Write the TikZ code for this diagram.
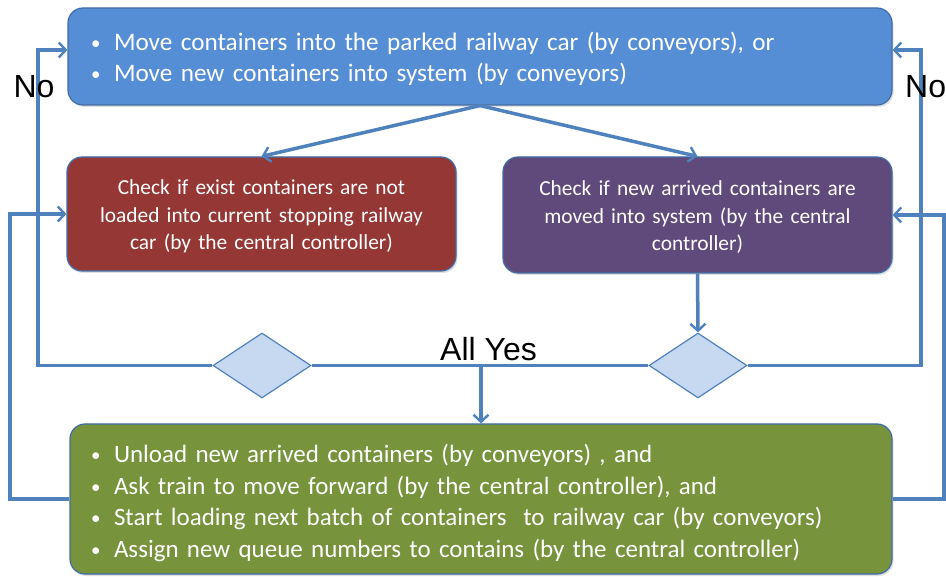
\documentclass[tikz,border=0pt]{standalone}
\usepackage{fontspec}
\setmainfont{Carlito}
\newfontfamily\arialf{Liberation Sans}
\usetikzlibrary{arrows.meta,shapes.geometric,shadows}
\definecolor{topfill}{RGB}{85,142,213}
\definecolor{redfill}{RGB}{149,55,53}
\definecolor{purfill}{RGB}{96,74,123}
\definecolor{grnfill}{RGB}{119,147,60}
\definecolor{diafill}{RGB}{198,217,241}
\definecolor{linec}{RGB}{79,129,189}
\definecolor{edgec}{RGB}{65,108,165}
\tikzset{
  boxst/.style={draw=edgec, line width=1.2pt, rounded corners=15pt,
    drop shadow={shadow xshift=1.5pt, shadow yshift=-2pt, opacity=0.25}, inner sep=0pt},
  txtst/.style={text=white, inner sep=0pt},
  diast/.style={diamond, draw=linec, line width=1.2pt, fill=diafill, minimum width=98pt,
    minimum height=65pt, inner sep=0pt},
  arr/.style={draw=linec, line width=3.5pt, -{Straight Barb[length=7pt,width=15pt,line width=2.4pt]}},
  ln/.style={draw=linec, line width=3.5pt},
  bigtxt/.style={font=\arialf\fontsize{32}{36}\selectfont, text=black, inner sep=0pt}
}
\newcommand{\bul}{\makebox[22pt][l]{\hspace{-1pt}\raisebox{1pt}{\fontsize{19}{19}\selectfont\textbullet}}}
\begin{document}
\begin{tikzpicture}[x=1pt,y=-1pt]
\useasboundingbox (0,0) rectangle (946,577);
\clip (0,0) rectangle (946,577);
% boxes
\node[boxst, fill=topfill, minimum width=824pt, minimum height=97pt] (top) at (480,56.5) {};
\node[boxst, fill=redfill, minimum width=389pt, minimum height=114pt] (red) at (261.5,214) {};
\node[boxst, fill=purfill, minimum width=389pt, minimum height=116pt] (pur) at (697.5,215) {};
\node[boxst, fill=grnfill, minimum width=822pt, minimum height=150pt] (grn) at (481,499) {};
% box texts
\node[txtst, text width=776pt, align=left, font=\fontsize{25.2}{31}\selectfont] (topt)
  at ([yshift=-2pt]top.center)
  {\bul Move containers into the parked railway car (by conveyors), or\\
   \bul Move new containers into system (by conveyors)};
\node[txtst, text width=370pt, align=center, font=\fontsize{21.4}{27.5}\selectfont] (redt)
  at ([yshift=-2.5pt]red.center)
  {Check if exist containers are not\\ loaded into current stopping railway\\ car (by the central controller)};
\node[txtst, text width=370pt, align=center, font=\fontsize{21.4}{27.5}\selectfont] (purt)
  at ([yshift=-2.5pt]pur.center)
  {Check if new arrived containers are\\ moved into system (by the central\\ controller)};
\node[txtst, text width=778pt, align=left, font=\fontsize{25}{31.5}\selectfont] (grnt)
  at ([yshift=-4pt]grn.center)
  {\bul Unload new arrived containers (by conveyors) , and\\
   \bul Ask train to move forward (by the central controller), and\\
   \bul Start loading next batch of containers\ \ to railway car (by conveyors)\\
   \bul Assign new queue numbers to contains (by the central controller)};
% diamonds
\node[diast] (ldia) at (262,365.5) {};
\node[diast] (rdia) at (698,365.5) {};
% coordinates
\coordinate (lx) at (38,0);
\coordinate (rx) at (921,0);
\coordinate (llx) at (10,0);
\coordinate (rrx) at (944,0);
% connectors
\draw[arr] (top.south) -- (red.north);
\draw[arr] (top.south) -- (pur.north);
\draw[arr] (pur.south) -- (rdia.north);
\draw[ln] (ldia.east) -- (rdia.west);
\draw[arr] (ldia.east -| grn.north) -- (grn.north);
\draw[arr] (ldia.west) -- (ldia.west -| lx) |- ([yshift=6.5pt]top.west);
\draw[arr] (rdia.east) -- (rdia.east -| rx) |- ([yshift=6.5pt]top.east);
\draw[arr] (grn.west) -- (grn.west -| llx) |- (red.west);
\draw[arr] (grn.east) -- (grn.east -| rrx) |- (pur.east);
% labels
\node[bigtxt] (nol) at (34,87) {No};
\node[bigtxt, anchor=west] (nor) at (905,87) {No};
\node[bigtxt] (allyes) at (488.5,349) {All Yes};
\end{tikzpicture}
\end{document}
